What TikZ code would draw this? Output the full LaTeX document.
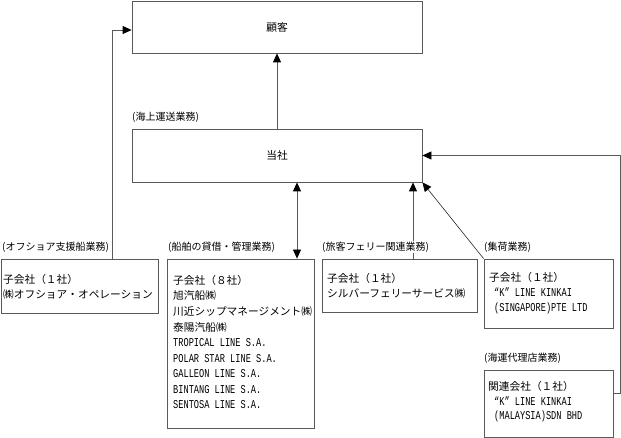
\documentclass[tikz,border=0pt]{standalone}
\usepackage{fontspec}
\setmainfont{Noto Sans CJK JP}
\newfontfamily\lat[FakeStretch=0.72]{Liberation Mono}
\usetikzlibrary{arrows.meta}
\begin{document}
\begin{tikzpicture}[x=1pt,y=-1pt,
  box/.style={draw=black!65,line width=0.8pt,rectangle,inner sep=0pt},
  txt/.style={anchor=west,inner sep=0pt,font=\fontsize{10.7}{12}\selectfont},
  lt/.style={anchor=west,inner sep=0pt,font=\lat\fontsize{12}{12}\selectfont},
  lab/.style={anchor=west,inner sep=0.5pt,font=\fontsize{10}{12}\selectfont},
  ln/.style={draw=black!65,line width=0.8pt},
  tip/.tip={Triangle[length=9pt,width=8pt,color=black]},
  arr/.style={ln,-tip}]
\useasboundingbox (0,0) rectangle (621,438);
% boxes
\node[box,minimum width=290pt,minimum height=52pt] (kokyaku) at (277,27) {};
\node[box,minimum width=290pt,minimum height=53pt] (tousha) at (277,155.5) {};
\node[box,minimum width=157pt,minimum height=54pt] (off) at (79.5,286) {};
\node[box,minimum width=147pt,minimum height=169pt] (senpaku) at (240.5,343.5) {};
\node[box,minimum width=155pt,minimum height=53pt] (ferry) at (399.5,285.5) {};
\node[box,minimum width=129pt,minimum height=69pt] (shuka) at (548.5,293.5) {};
\node[box,minimum width=129pt,minimum height=67pt] (kaiun) at (548.5,403.5) {};
% titles
\node[font=\fontsize{10.7}{12}\selectfont,inner sep=0pt] (t1) at (kokyaku) {顧客};
\node[font=\fontsize{10.7}{12}\selectfont,inner sep=0pt] (t2) at (tousha) {当社};
% coordinates for connector columns
\coordinate (xL) at (112,0);
\coordinate (xD) at (297,0);
\coordinate (xF) at (413,0);
\coordinate (xR) at (620,0);
% connectors
\draw[arr] (off.north -| xL) |- ([yshift=-3pt]kokyaku.west);
\draw[arr] (tousha.north) -- (kokyaku.south);
\draw[ln,tip-tip] (senpaku.north -| xD) -- (tousha.south -| xD);
\draw[arr] (ferry.north -| xF) -- (tousha.south -| xF);
\draw[arr,draw=black!85,line width=0.6pt] (shuka.north west) -- (tousha.south east);
\draw[arr] ([yshift=10pt]kaiun.east) -| (xR |- tousha.east) -- (tousha.east);
% category labels
\node[lab] (l0) at (131.5,117) {(海上運送業務)};
\node[lab] (l1) at (1.5,247) {(オフショア支援船業務)};
\node[lab] (l2) at (167.5,247) {(船舶の貸借・管理業務)};
\node[lab,fill=white] (l3) at (321.5,247) {(旅客フェリー関連業務)};
\node[lab] (l4) at (483.5,247) {(集荷業務)};
\node[lab] (l5) at (483.5,358) {(海運代理店業務)};
% offshore box text
\node[txt] (o1) at (3,279) {子会社（１社）};
\node[txt] (o2) at (3,294) {㈱オフショア・オペレーション};
% senpaku box text
\node[txt] (s1) at (173,280) {子会社（８社）};
\node[txt] (s2) at (173,295.5) {旭汽船㈱};
\node[txt] (s3) at (173,311) {川近シップマネージメント㈱};
\node[txt] (s4) at (173,327) {泰陽汽船㈱};
\node[lt] (s5) at (173,343) {TROPICAL LINE S.A.};
\node[lt] (s6) at (173,358.5) {POLAR STAR LINE S.A.};
\node[lt] (s7) at (173,374) {GALLEON LINE S.A.};
\node[lt] (s8) at (173,389.5) {BINTANG LINE S.A.};
\node[lt] (s9) at (173,405) {SENTOSA LINE S.A.};
% ferry box text
\node[txt] (f1) at (327,278) {子会社（１社）};
\node[txt] (f2) at (327,293) {シルバーフェリーサービス㈱};
% shuka box text
\node[txt] (h1) at (489,277) {子会社（１社）};
\node[lt] (h2) at (494,292.5) {“K” LINE KINKAI};
\node[lt] (h3) at (494,308) {(SINGAPORE)PTE LTD};
% kaiun box text
\node[txt] (k1) at (488,386) {関連会社（１社）};
\node[lt] (k2) at (494,401) {“K” LINE KINKAI};
\node[lt] (k3) at (494,416) {(MALAYSIA)SDN BHD};
\end{tikzpicture}
\end{document}
